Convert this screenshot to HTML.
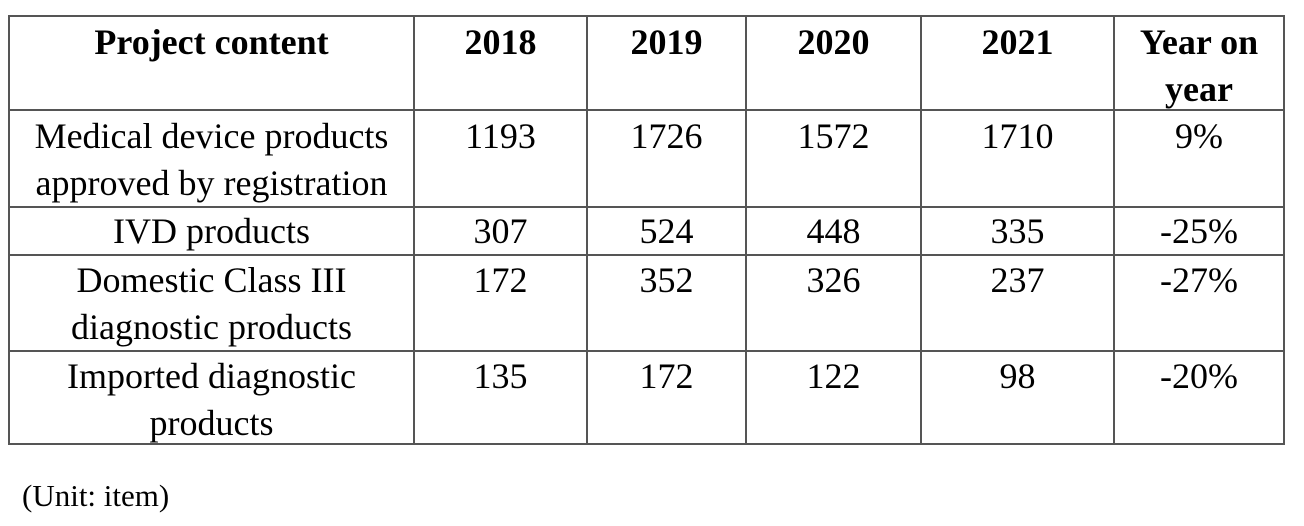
<!DOCTYPE html>
<html><head><style>
body{margin:0;width:1304px;height:526px;background:#fff;position:relative;overflow:hidden;font-family:"Liberation Serif",serif;color:#000}
.h{position:absolute;height:2px;background:#555;left:8px;width:1277px}
.v{position:absolute;width:2px;background:#555;top:15px;height:430px}
.t{position:absolute;text-align:center;font-size:36px;line-height:47px;white-space:nowrap}
.b{font-weight:bold}
.u{position:absolute;left:22px;top:476px;font-size:31px;line-height:40px}
</style></head><body>
<div class="h" style="top:15px"></div>
<div class="h" style="top:109px"></div>
<div class="h" style="top:206px"></div>
<div class="h" style="top:254px"></div>
<div class="h" style="top:350px"></div>
<div class="h" style="top:443px"></div>
<div class="v" style="left:8px"></div>
<div class="v" style="left:413px"></div>
<div class="v" style="left:586px"></div>
<div class="v" style="left:745px"></div>
<div class="v" style="left:920px"></div>
<div class="v" style="left:1113px"></div>
<div class="v" style="left:1283px"></div>

<div class="t b" style="left:10px;width:403px;top:19px">Project content</div>
<div class="t b" style="left:415px;width:171px;top:19px">2018</div>
<div class="t b" style="left:588px;width:157px;top:19px">2019</div>
<div class="t b" style="left:747px;width:173px;top:19px">2020</div>
<div class="t b" style="left:922px;width:191px;top:19px">2021</div>
<div class="t b" style="left:1115px;width:168px;top:19px">Year on<br>year</div>

<div class="t" style="left:10px;width:403px;top:113px">Medical device products<br>approved by registration</div>
<div class="t" style="left:415px;width:171px;top:113px">1193</div>
<div class="t" style="left:588px;width:157px;top:113px">1726</div>
<div class="t" style="left:747px;width:173px;top:113px">1572</div>
<div class="t" style="left:922px;width:191px;top:113px">1710</div>
<div class="t" style="left:1115px;width:168px;top:113px">9%</div>

<div class="t" style="left:10px;width:403px;top:208px">IVD products</div>
<div class="t" style="left:415px;width:171px;top:208px">307</div>
<div class="t" style="left:588px;width:157px;top:208px">524</div>
<div class="t" style="left:747px;width:173px;top:208px">448</div>
<div class="t" style="left:922px;width:191px;top:208px">335</div>
<div class="t" style="left:1115px;width:168px;top:208px">-25%</div>

<div class="t" style="left:10px;width:403px;top:257px">Domestic Class III<br>diagnostic products</div>
<div class="t" style="left:415px;width:171px;top:257px">172</div>
<div class="t" style="left:588px;width:157px;top:257px">352</div>
<div class="t" style="left:747px;width:173px;top:257px">326</div>
<div class="t" style="left:922px;width:191px;top:257px">237</div>
<div class="t" style="left:1115px;width:168px;top:257px">-27%</div>

<div class="t" style="left:10px;width:403px;top:353px">Imported diagnostic<br>products</div>
<div class="t" style="left:415px;width:171px;top:353px">135</div>
<div class="t" style="left:588px;width:157px;top:353px">172</div>
<div class="t" style="left:747px;width:173px;top:353px">122</div>
<div class="t" style="left:922px;width:191px;top:353px">98</div>
<div class="t" style="left:1115px;width:168px;top:353px">-20%</div>

<div class="u">(Unit: item)</div>
</body></html>
